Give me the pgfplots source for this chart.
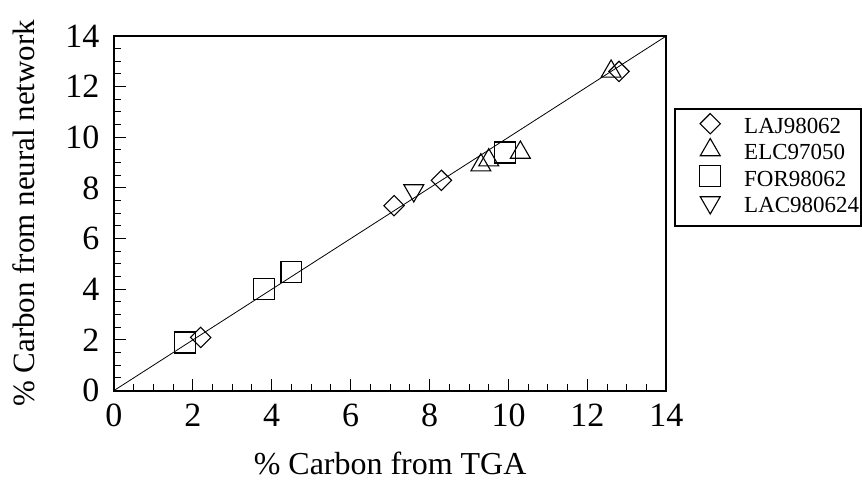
\documentclass[border=0pt]{standalone}
\usepackage{fontspec}
\setmainfont{Liberation Serif}
\usepackage{pgfplots}
\pgfplotsset{compat=1.18}
\begin{document}
\begin{tikzpicture}
\begin{axis}[
  scale only axis,
  width=553pt, height=355pt,
  xmin=0, xmax=14, ymin=0, ymax=14,
  xtick={0,2,...,14}, ytick={0,2,...,14},
  minor tick num=3,
  tick align=inside,
  tick pos=left,
  major tick length=12pt, minor tick length=7pt,
  axis line style={line width=1.8pt},
  every tick/.style={black, line width=1pt},
  tick label style={font=\fontsize{34}{38}\selectfont},
  /pgf/number format/assume math mode=true,
  xticklabel style={yshift=-10pt},
  yticklabel style={xshift=-11pt},
  xlabel={\% Carbon from TGA},
  ylabel={\% Carbon from neural network},
  xlabel style={font=\fontsize{32}{36}\selectfont, at={(axis description cs:0.5,-0.205)}, anchor=center},
  ylabel style={font=\fontsize{31}{36}\selectfont, at={(axis description cs:-0.163,0.5)}, anchor=center, rotate=0},
  clip=false,
  legend style={at={(1.0145,0.796)}, anchor=north west,
    draw=black, line width=1.8pt,
    font=\fontsize{23}{26}\selectfont,
    inner xsep=2pt, inner ysep=7.5pt,
    row sep=3.3pt,
    nodes={inner sep=0pt, text height=17pt, text depth=6pt},
    /tikz/every even column/.append style={column sep=0pt}},
  legend cell align=left,
  legend image code/.code={
    \path[draw=none] (0pt,-5pt) rectangle (67pt,5pt);
    \draw[overlay, line width=1.1pt] plot coordinates {(33pt,4.5pt)};},
  every axis plot/.append style={line width=1.1pt},
]
\useasboundingbox (rel axis cs:-0.2061,-0.2507) rectangle (rel axis cs:1.3526,1.1014);
\addplot[black, only marks, mark=square, mark size=7.2pt, mark options={rotate=45}] coordinates {
  (2.2,2.1) (7.1,7.3) (8.3,8.3) (12.8,12.6)
};
\addlegendentry{LAJ98062}
\addplot[black, only marks, mark=triangle, mark size=11.5pt] coordinates {
  (9.3,8.9) (9.5,9.1) (10.3,9.4) (12.6,12.6)
};
\addlegendentry{ELC97050}
\addplot[black, only marks, mark=square, mark size=10.5pt] coordinates {
  (1.8,1.9) (3.8,4.0) (4.5,4.7) (9.9,9.4)
};
\addlegendentry{FOR98062}
\addplot[black, only marks, mark=triangle, mark size=11.5pt, mark options={rotate=180}] coordinates {
  (7.6,7.9)
};
\addlegendentry{LAC980624}
\addplot[black, line width=0.8pt, mark=none, forget plot] coordinates {(0,0) (14,14)};
\end{axis}
\end{tikzpicture}
\end{document}
